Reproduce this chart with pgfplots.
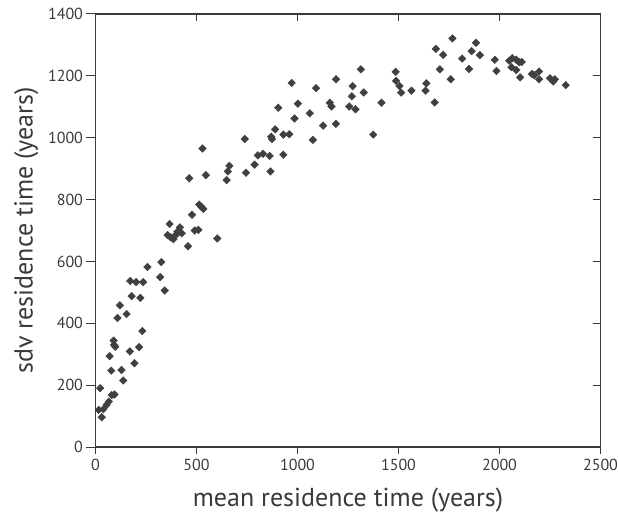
\documentclass[border=0pt]{standalone}
\usepackage{pgfplots}
\pgfplotsset{compat=1.18}
\usepackage{fontspec}
\setmainfont{PT Sans}
\definecolor{mk}{HTML}{404040}
\definecolor{ax}{HTML}{3a3a3a}
\pgfplotsset{
  base/.style={
    at={(0,0)}, anchor=south west,
    width=505pt, height=433pt, scale only axis,
    xmin=0, xmax=2500, ymin=0, ymax=1400,
    xtick={0,500,...,2500}, ytick={0,200,...,1400},
    axis line style={ax, line width=1.1pt},
    major tick style={ax, line width=1pt},
    clip=false,
  }
}
\begin{document}
\begin{tikzpicture}[x=1pt,y=1pt]
\useasboundingbox (-95.5,-67) rectangle (522.5,447);
% bottom ticks outward
\begin{axis}[base, axis line style={draw=none},
  xtick pos=lower, ytick=\empty, xticklabels={},
  tick align=outside, major tick length=6.5pt]
\end{axis}
% top and right ticks inward
\begin{axis}[base, axis line style={draw=none},
  xtick pos=upper, ytick pos=right, xticklabels={}, yticklabels={},
  tick align=inside, major tick length=7.5pt]
\end{axis}
% main axis with data, left ticks outward
\begin{axis}[base,
  ytick pos=left, xtick pos=lower,
  xtick style={draw=none},
  tick align=outside, major tick length=9pt,
  /pgf/number format/assume math mode=true,
  /pgf/number format/1000 sep={},
  tick label style={font=\fontsize{16}{19}\selectfont, color=ax},
  xticklabel style={yshift=0pt},
  xlabel={mean residence time (years)},
  ylabel={sdv residence time (years)},
  label style={font=\fontsize{26}{30}\selectfont, color=ax},
  xlabel style={anchor=center, at={(axis description cs:0.5,-0.122)}},
  ylabel style={anchor=center, at={(axis description cs:-0.137,0.5)}},
]
\addplot[only marks, mark=square*, mark size=2.7pt, color=mk, mark options={rotate=45, fill=mk, draw=mk}] coordinates {
(23,190) (16,120) (31,96) (39,122) (55,136) (66,147) (80,168) (94,170)
(78,247) (129,249) (137,215) (70,294) (90,344) (98,324) (92,330)
(109,417) (121,458) (154,430) (170,309) (193,271) (216,323) (232,375)
(179,488) (222,482) (172,537) (201,533) (236,533) (257,582) (320,549)
(326,598) (343,506) (367,721) (357,685) (372,678) (386,672) (398,686)
(406,696) (418,710) (427,691) (458,649) (464,869) (478,751) (491,700)
(509,702) (513,784) (523,777) (534,770) (530,965) (546,879) (603,674)
(649,863) (655,891) (663,909) (739,996) (745,887) (788,913) (804,943)
(829,948) (862,941) (866,891) (870,1003) (874,996) (889,1027) (905,1097)
(930,945) (930,1010) (959,1011) (971,1177) (985,1062) (1002,1110)
(1061,1079) (1076,993) (1092,1160) (1127,1039) (1160,1113) (1168,1101)
(1191,1189) (1190,1045) (1256,1101) (1269,1134) (1273,1167) (1287,1092)
(1314,1221) (1328,1146) (1375,1010) (1416,1113) (1486,1213) (1488,1184)
(1505,1167) (1513,1146) (1564,1152) (1634,1152) (1638,1176) (1679,1114)
(1685,1287) (1705,1221) (1721,1268) (1759,1189) (1767,1321) (1815,1256)
(1849,1222) (1862,1280) (1884,1307) (1903,1267) (1977,1252) (1985,1216)
(2048,1249) (2063,1257) (2059,1228) (2083,1252) (2098,1244) (2110,1245)
(2102,1195) (2083,1219) (2161,1206) (2172,1202) (2196,1214) (2196,1189)
(2250,1192) (2266,1182) (2274,1189) (2328,1170)
};
\end{axis}
\end{tikzpicture}
\end{document}
